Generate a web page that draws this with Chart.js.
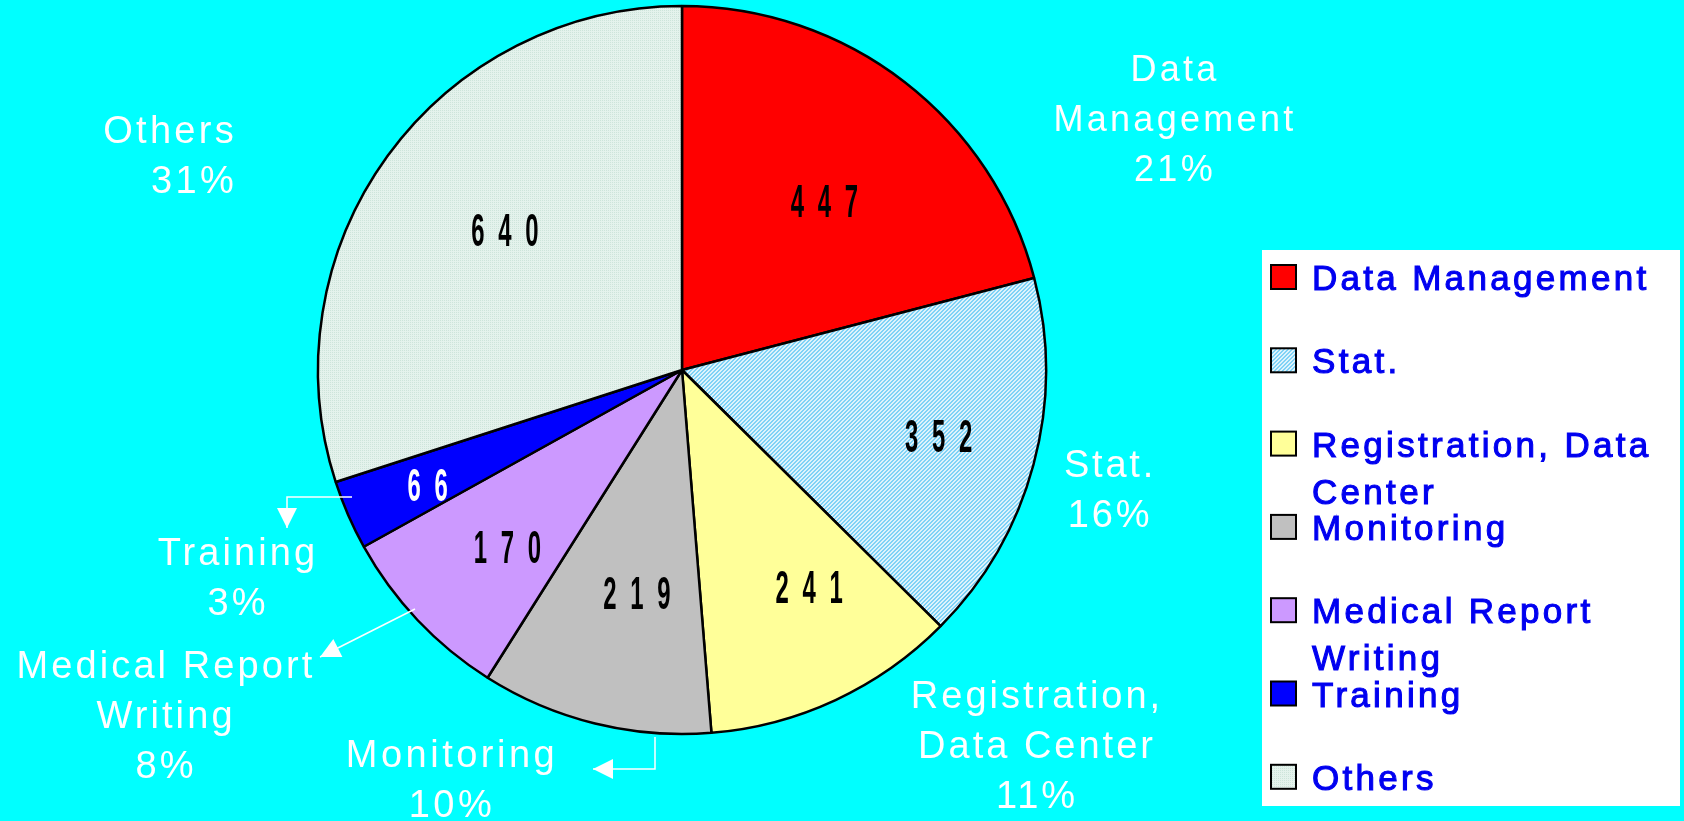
<!DOCTYPE html>
<html>
<head>
<meta charset="utf-8">
<script src="https://cdn.jsdelivr.net/npm/chart.js@4.4.1/dist/chart.umd.min.js"></script>
<style>
    html, body { margin: 0; padding: 0; background: #00ffff; }
    #wrap { width: 1684px; height: 821px; }
</style>
</head>
<body>
<div id="wrap"><canvas id="pieChart" width="1684" height="821"></canvas></div>
<script>
// data
const categories = ['Data Management', 'Stat.', 'Registration, Data Center', 'Monitoring', 'Medical Report Writing', 'Training', 'Others'];
const counts = [447, 352, 241, 219, 170, 66, 640];
const percentLabels = ['21%', '16%', '11%', '10%', '8%', '3%', '31%'];

function makePattern(base, ink, isInk) {
    const c = document.createElement('canvas');
    c.width = 4;
    c.height = 4;
    const g = c.getContext('2d');
    g.fillStyle = base;
    g.fillRect(0, 0, 4, 4);
    g.fillStyle = ink;
    for (let i = 0; i < 4; i++) {
        for (let j = 0; j < 4; j++) {
            if (isInk(i, j)) g.fillRect(i, j, 1, 1);
        }
    }
    return g.createPattern(c, 'repeat');
}

const statFill = makePattern('#ddf3fc', '#7fd2f6', (i, j) => (i + j) % 4 < 2);
const othersFill = makePattern('#e4f2ec', '#cde4da', (i, j) => (i % 2 === 0 && j % 2 === 0));
const sliceFills = ['#ff0000', statFill, '#ffff99', '#c0c0c0', '#cc99ff', '#0000ff', othersFill];

function setSpacing(c, px) {
    if ('letterSpacing' in c) c.letterSpacing = px + 'px';
}

function wrapWords(c, text, maxWidth) {
    const words = text.split(' ');
    const lines = [];
    let line = '';
    words.forEach(w => {
        const test = line ? line + ' ' + w : w;
        if (line && c.measureText(test).width > maxWidth) {
            lines.push(line);
            line = w;
        } else {
            line = test;
        }
    });
    if (line) lines.push(line);
    return lines;
}

// numbers inside the slices, narrow digits spread apart
const valueLabels = {
    id: 'valueLabels',
    afterDatasetsDraw(chart, args, opts) {
        const meta = chart.getDatasetMeta(0);
        const c = chart.ctx;
        const values = chart.data.datasets[0].data;
        meta.data.forEach((arc, i) => {
            const p = arc.getProps(['x', 'y', 'startAngle', 'endAngle', 'outerRadius'], true);
            const mid = (p.startAngle + p.endAngle) / 2 + opts.angleShift[i] * Math.PI / 180;
            const r = p.outerRadius * opts.radial[i];
            const x = p.x + Math.cos(mid) * r;
            const y = p.y + Math.sin(mid) * r;
            const digits = String(values[i]).split('');
            c.save();
            c.fillStyle = opts.colors[i];
            c.font = 'bold 46px "Liberation Sans", Arial, sans-serif';
            c.textAlign = 'center';
            c.textBaseline = 'middle';
            digits.forEach((d, k) => {
                const dx = x + (k - (digits.length - 1) / 2) * opts.pitch;
                c.save();
                c.translate(dx, y);
                c.scale(0.52, 1);
                c.fillText(d, 0, 0);
                c.restore();
            });
            c.restore();
        });
    }
};

// white category / percent labels around the pie, with the three arrows
const outerLabels = {
    id: 'outerLabels',
    afterDraw(chart, args, opts) {
        const c = chart.ctx;
        chart.data.labels.forEach((name, i) => {
            const pos = opts.layout[i];
            c.save();
            c.fillStyle = '#ffffff';
            c.font = pos.size + 'px "Liberation Sans", Arial, sans-serif';
            setSpacing(c, pos.spacing);
            c.textAlign = pos.align;
            c.textBaseline = 'alphabetic';
            const lines = wrapWords(c, name, pos.wrap).concat([percentLabels[i]]);
            lines.forEach((ln, k) => {
                c.fillText(ln, pos.x, pos.y + k * opts.lineHeight);
            });
            c.restore();
        });

        opts.arrows.forEach(path => {
            c.save();
            c.strokeStyle = '#ffffff';
            c.fillStyle = '#ffffff';
            c.lineWidth = 1.5;
            c.beginPath();
            path.forEach((pt, k) => (k === 0 ? c.moveTo(pt[0], pt[1]) : c.lineTo(pt[0], pt[1])));
            c.stroke();
            const tip = path[path.length - 1];
            const prev = path[path.length - 2];
            const ang = Math.atan2(tip[1] - prev[1], tip[0] - prev[0]);
            const len = 20, half = 10;
            c.beginPath();
            c.moveTo(tip[0], tip[1]);
            c.lineTo(tip[0] - len * Math.cos(ang) + half * Math.sin(ang), tip[1] - len * Math.sin(ang) - half * Math.cos(ang));
            c.lineTo(tip[0] - len * Math.cos(ang) - half * Math.sin(ang), tip[1] - len * Math.sin(ang) + half * Math.cos(ang));
            c.closePath();
            c.fill();
            c.restore();
        });
    }
};

// legend box on the right
const sideLegend = {
    id: 'sideLegend',
    afterDraw(chart, args, opts) {
        const c = chart.ctx;
        const fills = chart.data.datasets[0].backgroundColor;
        c.save();
        c.fillStyle = '#ffffff';
        c.fillRect(opts.left, opts.top, opts.width, opts.height);
        c.font = opts.size + 'px "Liberation Sans", Arial, sans-serif';
        setSpacing(c, opts.spacing);
        c.textAlign = 'left';
        c.textBaseline = 'alphabetic';
        chart.data.labels.forEach((name, i) => {
            const base = opts.firstBaseline + i * opts.step;
            c.fillStyle = fills[i];
            c.fillRect(opts.left + 9, base - 25, 25, 24);
            c.strokeStyle = '#000000';
            c.lineWidth = 2;
            c.strokeRect(opts.left + 9, base - 25, 25, 24);
            c.fillStyle = '#0000f0';
            c.strokeStyle = '#0000f0';
            c.lineWidth = 1.1;
            const lines = wrapWords(c, name, opts.wrap);
            lines.forEach((ln, k) => {
                c.fillText(ln, opts.left + 50, base + k * 47);
                c.strokeText(ln, opts.left + 50, base + k * 47);
            });
        });
        c.restore();
    }
};

const ctx = document.getElementById('pieChart');
new Chart(ctx, {
    type: 'pie',
    data: {
        labels: categories,
        datasets: [{
            data: counts,
            backgroundColor: sliceFills,
            borderColor: '#000000',
            borderWidth: 2.5,
            radius: 364
        }]
    },
    options: {
        responsive: false,
        animation: false,
        layout: { padding: { left: 100, right: 420, top: 0, bottom: 81 } },
        plugins: {
            legend: { display: false },
            tooltip: { enabled: false },
            valueLabels: {
                angleShift: [3, 0, -5, -2.6, -2.6, -1.4, 1.7],
                radial: [0.6, 0.73, 0.7, 0.635, 0.69, 0.77, 0.615],
                colors: ['#000', '#000', '#000', '#000', '#000', '#fff', '#000'],
                pitch: 27
            },
            outerLabels: {
                lineHeight: 50,
                layout: [
                    { x: 1175, y: 81, align: 'center', size: 36, spacing: 3.3, wrap: 260 },
                    { x: 1110, y: 477, align: 'center', size: 38, spacing: 2.8, wrap: 260 },
                    { x: 1037, y: 708, align: 'center', size: 38, spacing: 3, wrap: 260 },
                    { x: 452, y: 767, align: 'center', size: 38, spacing: 3.5, wrap: 300 },
                    { x: 166, y: 678, align: 'center', size: 38, spacing: 3.1, wrap: 320 },
                    { x: 238, y: 565, align: 'center', size: 38, spacing: 3.1, wrap: 300 },
                    { x: 237, y: 143, align: 'right', size: 38, spacing: 3.3, wrap: 300 }
                ],
                arrows: [
                    [[352, 497], [287, 497], [287, 528]],
                    [[415, 609], [320, 657]],
                    [[655, 737], [655, 769], [593, 769]]
                ]
            },
            sideLegend: {
                left: 1262, top: 250, width: 418, height: 556,
                firstBaseline: 290, step: 83.3,
                size: 35, spacing: 3.3, wrap: 365
            }
        }
    },
    plugins: [valueLabels, outerLabels, sideLegend]
});
</script>
</body>
</html>
